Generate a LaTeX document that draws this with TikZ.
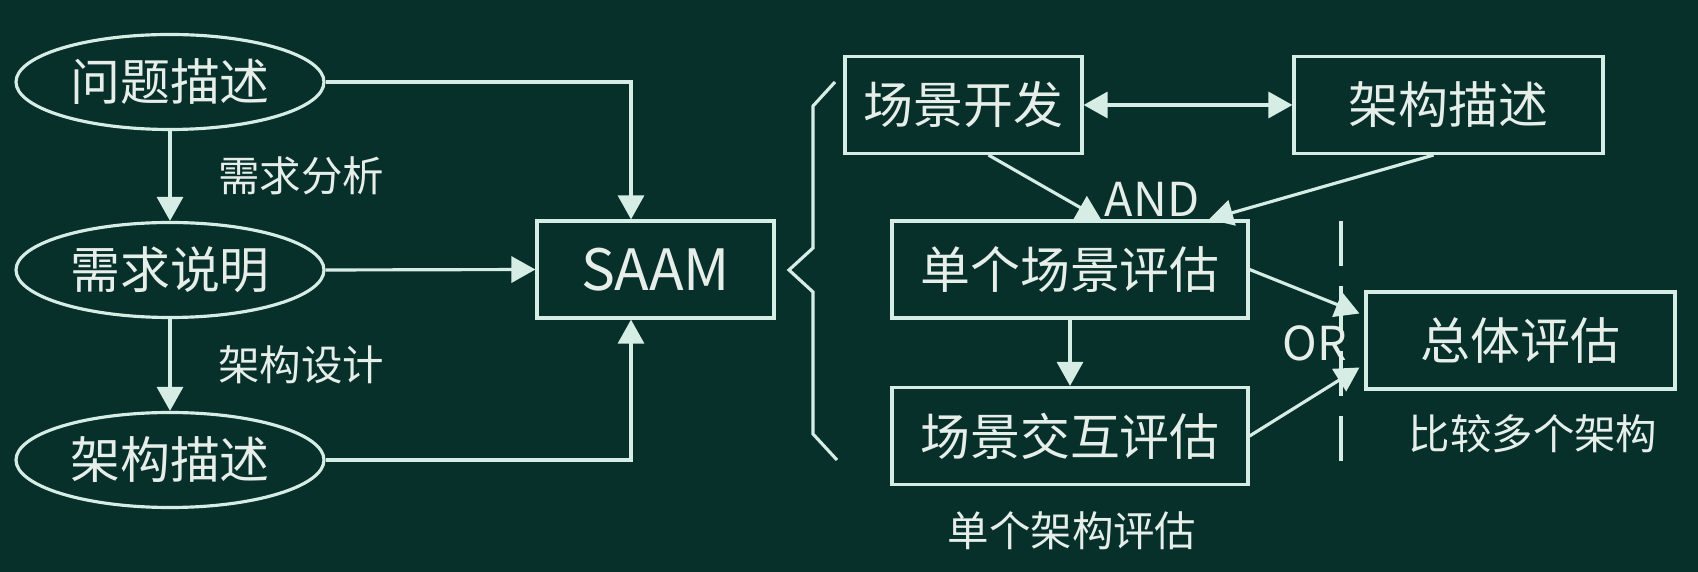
\documentclass[tikz,border=0pt]{standalone}
\usepackage{fontspec}
\newfontfamily\cjk{Noto Sans CJK SC}
\usetikzlibrary{arrows.meta,shapes.geometric}

\definecolor{bord}{HTML}{07302A}
\definecolor{krijt}{HTML}{D5EDE4}
\definecolor{tekst}{HTML}{E6EEEA}

\begin{document}
\begin{tikzpicture}[>={Triangle[length=2.4mm,width=2.6mm]}, line width=0.9pt,
    every node/.style={font=\cjk\fontsize{14.2}{16}\selectfont, text=tekst},
    ovaal/.style={ellipse, draw=krijt, minimum width=3.08cm, minimum height=0.95cm, inner sep=0pt},
    blok/.style={rectangle, draw=krijt, minimum height=0.97cm, inner sep=0pt},
    klein/.style={font=\cjk\fontsize{11.8}{14}\selectfont},
    latijn/.style={font=\cjk\fontsize{13.3}{15}\selectfont}]

  % Achtergrond
  \fill[bord] (0,0) rectangle (16.98,5.72);
  \useasboundingbox (0,0) rectangle (16.98,5.72);

  % Ovalen links
  \node[ovaal] (vraag) at (1.70,4.90) {问题描述};
  \node[ovaal] (eis) at (1.70,3.02) {需求说明};
  \node[ovaal] (arch) at (1.70,1.12) {架构描述};

  \draw[->, krijt] (vraag) -- (eis)
    node[klein, midway, right=0.35cm] {需求分析};
  \draw[->, krijt] (eis) -- (arch)
    node[klein, midway, right=0.35cm] {架构设计};

  % SAAM
  \node[blok, minimum width=2.37cm, font=\cjk\fontsize{16.2}{18}\selectfont] (saam) at (6.555,3.025) {SAAM};
  \coordinate (knik) at (6.31,0);

  \draw[->, krijt] (vraag.east) -| (knik |- saam.north);
  \draw[->, krijt] (eis.east) -- (saam.west);
  \draw[->, krijt] (arch.east) -| (knik |- saam.south);

  % Accolade
  \draw[krijt] (8.35,4.90) -- (8.13,4.66) -- (8.13,3.24) -- (7.89,3.02)
    -- (8.13,2.80) -- (8.13,1.38) -- (8.37,1.12);

  % Blokken rechts
  \node[blok, minimum width=2.37cm] (scen) at (9.635,4.67) {场景开发};
  \node[blok, minimum width=3.09cm] (besch) at (14.485,4.67) {架构描述};
  \node[blok, minimum width=3.56cm] (enkel) at (10.70,3.025) {单个场景评估};
  \node[blok, minimum width=3.56cm] (inter) at (10.70,1.36) {场景交互评估};
  \node[blok, minimum width=3.09cm] (totaal) at (15.205,2.315) {总体评估};

  \draw[<->, krijt] (scen.east) -- (besch.west);
  \draw[->, krijt] ([xshift=2.5mm]scen.south) -- ([xshift=3.1mm]enkel.north);
  \draw[->, krijt] ([xshift=-1.5mm]besch.south) -- ([xshift=13.9mm]enkel.north);
  \draw[->, krijt] (enkel) -- (inter);
  \draw[->, krijt] (enkel.east) -- ([xshift=-0.5mm,yshift=2.7mm]totaal.west);
  \draw[->, krijt] (inter.east) -- ([xshift=-0.5mm,yshift=-2.7mm]totaal.west);

  % Scheidingslijn
  \draw[krijt, dashed, dash pattern=on 0.45cm off 0.2cm] (13.41,3.51) -- (13.41,1.01);

  % Labels
  \node[latijn] (en) at (11.52,3.73) {AND};
  \node[latijn] (of) at (13.15,2.29) {OR};
  \node[klein] (meer) at (15.33,1.38) {比较多个架构};
  \node[klein] (een) at (10.72,0.41) {单个架构评估};

\end{tikzpicture}
\end{document}
